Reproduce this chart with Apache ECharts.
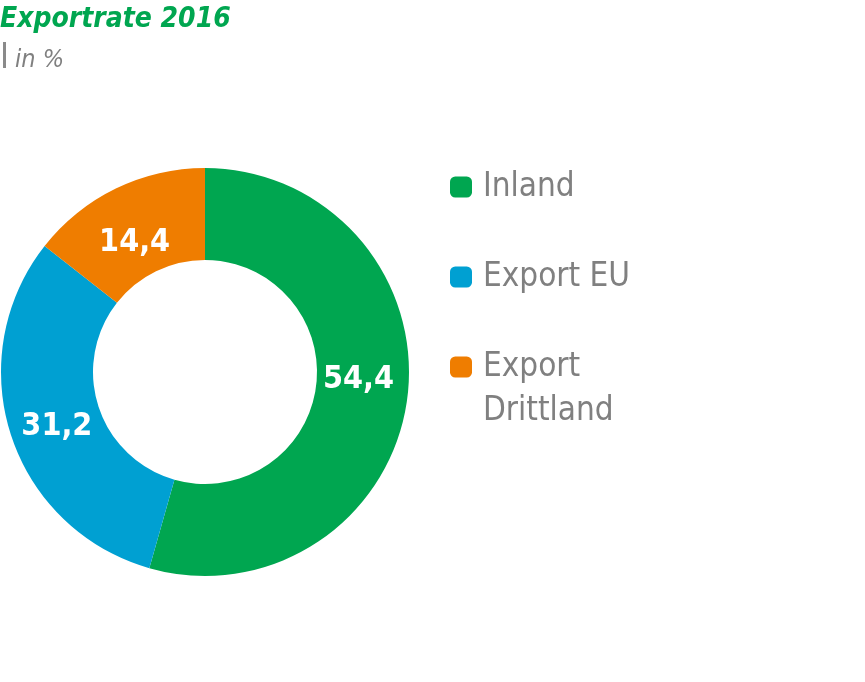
<!DOCTYPE html>
<html>
<head>
<meta charset="utf-8">
<script src="https://cdn.jsdelivr.net/npm/echarts@6/dist/echarts.min.js"></script>
<style>
html,body{margin:0;padding:0;background:#fff;}
#chart{width:865px;height:682px;}
</style>
</head>
<body>
<div id="chart"></div>
<script>
const categories = ['Inland', 'Export EU', 'Export Drittland'];
const legendLines = [['Inland'], ['Export EU'], ['', 'Export', 'Drittland']];
const values = [54.4, 31.2, 14.4];
const colors = ['#00a650', '#00a0d2', '#ef7d00'];
const titleText = 'Exportrate 2016';
const subtitleText = 'in %';

const FONT = '"DejaVu Sans Condensed", "Liberation Sans Narrow", "Roboto", sans-serif';
// label nudges (styling only)
const labelNudge = [[-6, -14], [5, 5], [0, 15]];

const chart = echarts.init(document.getElementById('chart'), null, {renderer: 'canvas'});

const fmt = v => v.toFixed(1).replace('.', ',');

const legendBase = {
  orient: 'vertical',
  left: 445,
  icon: 'roundRect',
  itemWidth: 22,
  itemHeight: 21,
  itemGap: 46,
  selectedMode: false,
  textStyle: {
    color: '#808080', fontFamily: FONT, fontSize: 33, lineHeight: 44,
    rich: {
      s: {width: 6, height: 44},
      t: {color: '#808080', fontFamily: FONT, fontSize: 33, lineHeight: 44}
    }
  },
  formatter: name => legendLines[categories.indexOf(name)]
    .map(l => l ? '{s|}{t|' + l + '}' : '{s|}').join('\n')
};

chart.setOption({
  animation: false,
  backgroundColor: '#fff',
  title: {
    text: titleText,
    subtext: '{g|}{t|' + subtitleText + '}',
    left: -5,
    top: 1,
    itemGap: 14,
    textStyle: {
      color: '#00a650',
      fontFamily: FONT,
      fontWeight: 'bold',
      fontStyle: 'italic',
      fontSize: 28
    },
    subtextStyle: {
      color: '#808080',
      fontStyle: 'italic',
      fontSize: 25,
      fontFamily: FONT,
      rich: {
        g: {width: 15},
        t: {color: '#808080', fontStyle: 'italic', fontSize: 25, fontFamily: FONT}
      }
    }
  },
  graphic: [{
    type: 'rect',
    left: 3,
    top: 42,
    shape: {width: 3, height: 26},
    style: {fill: '#8a8a8a'},
    silent: true
  }],
  legend: [
    Object.assign({}, legendBase, {top: 160, data: [categories[0], categories[1]]}),
    Object.assign({}, legendBase, {top: 296, data: [categories[2]]})
  ],
  series: [{
    type: 'pie',
    center: [205, 372],
    radius: [112, 204],
    startAngle: 90,
    clockwise: true,
    avoidLabelOverlap: false,
    silent: true,
    itemStyle: {borderWidth: 0},
    label: {
      show: true,
      position: 'inside',
      color: '#fff',
      fontFamily: FONT,
      fontWeight: 'bold',
      fontSize: 32,
      formatter: p => fmt(p.value)
    },
    labelLine: {show: false},
    data: categories.map((c, i) => ({
      name: c,
      value: values[i],
      itemStyle: {color: colors[i]},
      label: {offset: labelNudge[i]}
    }))
  }]
});
</script>
</body>
</html>
